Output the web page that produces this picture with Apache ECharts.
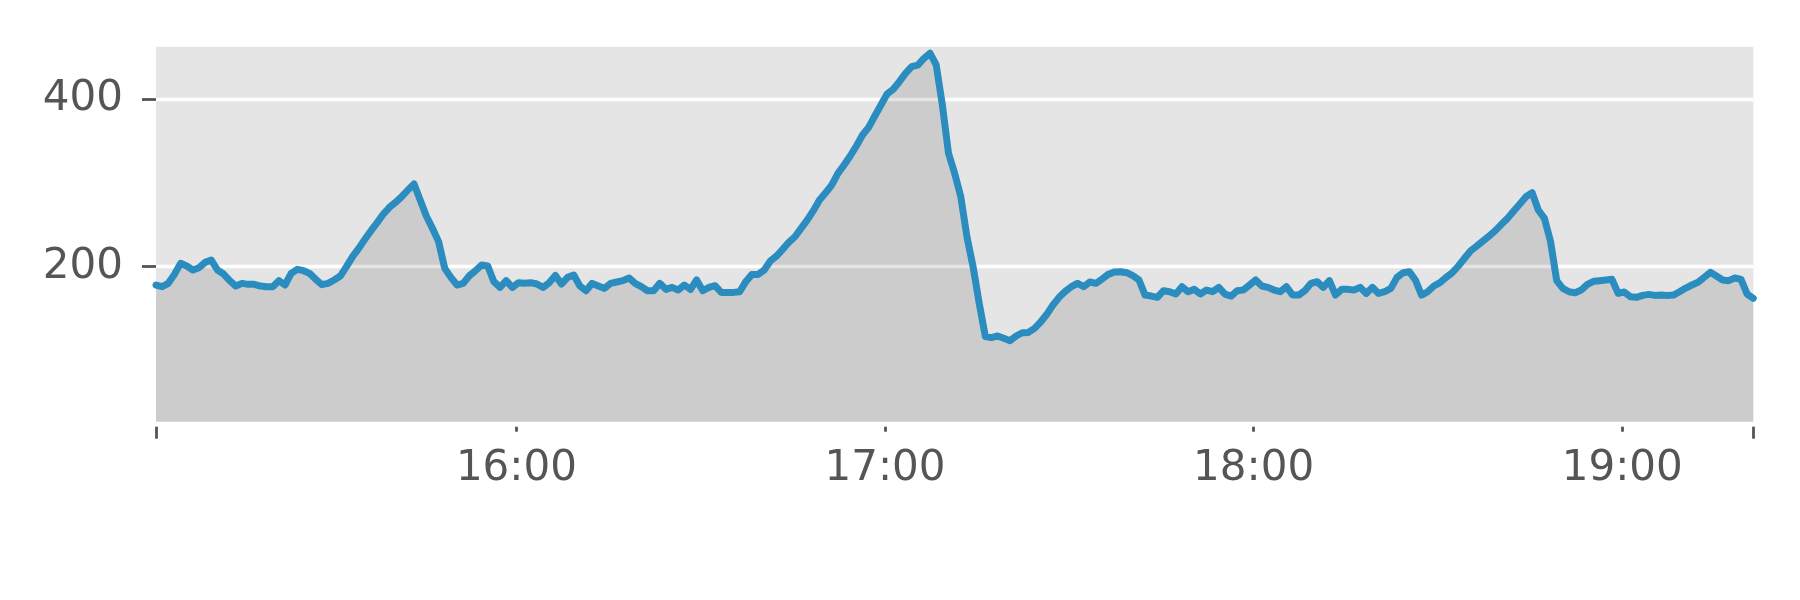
<!DOCTYPE html>
<html>
<head>
<meta charset="utf-8">
<script src="https://cdn.jsdelivr.net/npm/echarts@6/dist/echarts.min.js"></script>
<style>
  html, body { margin: 0; padding: 0; background: #ffffff; }
  #chart { width: 1800px; height: 600px; }
</style>
</head>
<body>
<div id="chart"></div>
<script>
// ---- data ----
const startTime = '2020-01-01T15:01:20';
const stepMinutes = 1;
const values = [
  178.1,176.1,180.1,190.8,204,200.8,196,198.8,205.2,208,
  196,191.2,183.3,176.9,180.1,178.9,178.9,176.9,176.1,176.1,
  183.3,178.1,192,196.8,195.2,192,184.9,178.5,180.1,184.1,
  188.8,200,212,221.9,232.7,243,252.6,262.9,270.9,276.9,
  283.6,291.6,298.8,
  279.6,260.5,245.8,229.9,198,187.2,178.1,180.1,189.2,195.2,
  202,200.8,182.1,175.3,183.3,175.3,180.9,180.1,180.9,179.3,
  175.3,180.9,189.6,179.3,187.2,190,176.9,171.3,180.1,176.9,
  174.1,180.1,181.7,183.3,186.5,180.1,176.1,171.3,171.3,180.1,
  172.9,175.3,172.1,178.1,
  172.9,184.1,171.3,175.3,177.3,169.3,169.3,169.3,170.1,182.1,
  190.8,190.8,196,206.8,212.7,220.7,229.1,235.8,245.8,255.7,
  266.9,279.6,288.4,297.6,311.5,321.5,332.2,344.2,357.3,366.5,
  380,393.1,406.3,411.9,421,431,439,440.9,448.9,
  454.9,441,393.1,335.4,311.5,283.6,235.8,200,156.2,116.4,
  115.2,117.2,114.4,111.6,117.2,121.1,121.5,126.3,133.9,143.1,
  154.2,163.4,170.5,176.1,180.1,176.1,181.7,180.1,185.3,190.8,
  193.6,194,192.8,189.2,184.1,166.1,164.9,163.4,171.3,170.1,
  167.3,176.1,170.1,172.9,167.3,172.1,170.1,175.3,167.3,
  164.9,171.3,172.1,178.1,184.1,176.9,175.3,172.1,170.1,176.1,
  166.1,166.1,171.3,180.1,182.1,175.3,183.3,166.1,172.9,172.9,
  172.1,175.3,168.1,175.3,168.1,170.1,174.1,187.2,192.8,194,
  184.1,166.1,170.1,176.9,180.9,187.2,192.8,200.8,210,219.1,
  224.7,230.7,236.6,243,
  250.6,257.7,266.5,274.9,283.6,288.4,267.7,257.7,229.9,183.3,
  174.1,170.1,168.9,172.1,178.9,182.5,183.3,184.1,184.9,168.1,
  169.7,164.1,163.4,165.7,166.9,165.7,166.1,165.7,166.1,170.1,
  174.5,178.1,181.3,187.2,193.2,188.8,184.1,183.3,186.5,184.9,
  167.3,162.2
];
const xTickLabels = ['16:00', '17:00', '18:00', '19:00'];
const yTickValues = [200, 400];
const yMin = 14.8, yMax = 462.8;

// ---- build ----
const t0 = new Date(startTime).getTime();
const seriesData = values.map((v, i) => [t0 + i * stepMinutes * 60000, v]);
const tMin = seriesData[0][0];
const tMax = seriesData[seriesData.length - 1][0];
const day = startTime.slice(0, 10);
const hourTicks = xTickLabels.map(s => new Date(day + 'T' + s + ':00').getTime());
const pad2 = n => (n < 10 ? '0' : '') + n;
const fmtTime = (val) => { const d = new Date(val); return pad2(d.getHours()) + ':' + pad2(d.getMinutes()); };

const FONT = 'DejaVu Sans';
const TXT = '#555555';

const chart = echarts.init(document.getElementById('chart'), null, { renderer: 'canvas' });
chart.setOption({
  animation: false,
  backgroundColor: '#ffffff',
  grid: {
    left: 156, right: 46.7, top: 46.7, bottom: 178.3,
    show: true, backgroundColor: '#E5E5E5', borderWidth: 0
  },
  xAxis: [
    {
      type: 'value', min: tMin, max: tMax, position: 'bottom', offset: 5, scale: true,
      axisLine: { show: false },
      splitLine: { show: false },
      axisTick: { show: true, length: 5, customValues: hourTicks,
                  lineStyle: { color: TXT, width: 2.8 } },
      axisLabel: {
        show: true, customValues: hourTicks, margin: 21,
        fontFamily: FONT, fontSize: 42, lineHeight: 42, color: TXT,
        formatter: fmtTime
      }
    },
    {
      type: 'value', min: tMin, max: tMax, position: 'bottom', offset: 5, scale: true,
      axisLine: { show: false },
      splitLine: { show: false },
      axisTick: { show: true, length: 12, customValues: [tMin, tMax],
                  lineStyle: { color: TXT, width: 2.8 } },
      axisLabel: { show: false }
    }
  ],
  yAxis: {
    type: 'value', min: yMin, max: yMax,
    axisLine: { show: false },
    splitLine: { show: false },
    axisTick: { show: true, length: 14, customValues: yTickValues,
                lineStyle: { color: TXT, width: 2.8 } },
    axisLabel: {
      show: true, customValues: yTickValues, margin: 33,
      fontFamily: FONT, fontSize: 42, color: TXT
    }
  },
  series: [
    {
      type: 'line', data: [], silent: true, z: 1,
      markLine: {
        silent: true, symbol: ['none', 'none'], animation: false, z: 1,
        label: { show: false },
        lineStyle: { color: '#ffffff', width: 3.3, type: 'solid' },
        data: yTickValues.map(v => ({ yAxis: v }))
      }
    },
    {
      type: 'line', data: seriesData, z: 2,
      showSymbol: false, symbol: 'none', smooth: false,
      lineStyle: { color: '#2B8CBF', width: 7, join: 'round', cap: 'round' },
      areaStyle: { color: 'rgba(0,0,0,0.15)', origin: 'start' }
    }
  ]
});
</script>
</body>
</html>
